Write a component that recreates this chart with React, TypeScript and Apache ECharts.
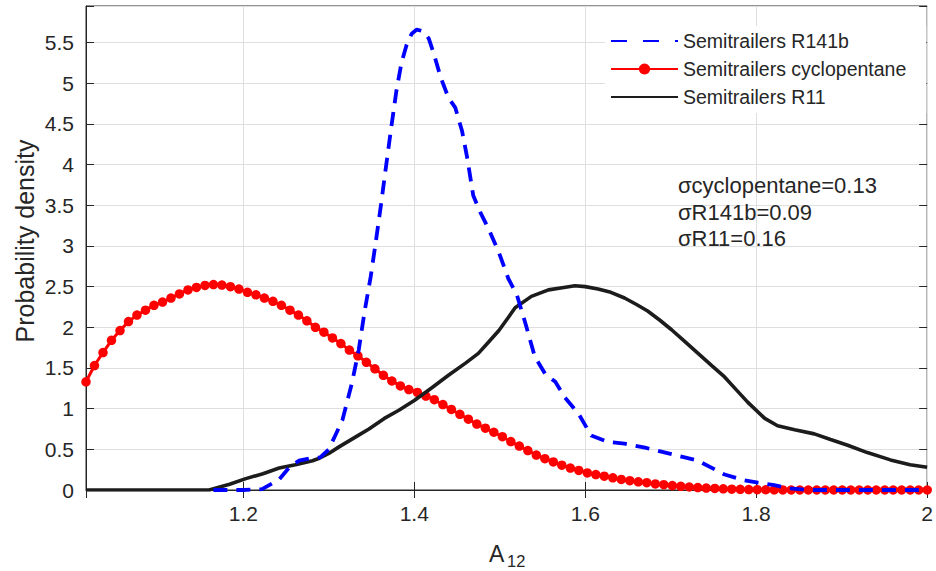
import React, { useEffect, useRef } from "react";
import * as echarts from "echarts";

// ---- data ----
const seriesNames = ["Semitrailers R141b", "Semitrailers cyclopentane", "Semitrailers R11"];

// cyclopentane: evenly spaced samples (start, step) with their densities
const cyclopentaneStart = 1.016;
const cyclopentaneStep = 0.00994;
const cyclopentaneValues = [
  1.33, 1.53, 1.69, 1.84, 1.96, 2.07, 2.15, 2.21, 2.27, 2.31,
  2.36, 2.41, 2.46, 2.49, 2.515, 2.525, 2.52, 2.5, 2.47, 2.43,
  2.4, 2.36, 2.32, 2.27, 2.21, 2.15, 2.08, 2.0, 1.94, 1.87,
  1.8, 1.72, 1.65, 1.57, 1.49, 1.41, 1.34, 1.28, 1.235, 1.2,
  1.155, 1.11, 1.05, 0.99, 0.93, 0.87, 0.81, 0.76, 0.71, 0.655,
  0.595, 0.54, 0.485, 0.43, 0.385, 0.345, 0.305, 0.27, 0.24, 0.21,
  0.19, 0.17, 0.15, 0.13, 0.115, 0.1, 0.09, 0.075, 0.065, 0.055,
  0.045, 0.037, 0.03, 0.024, 0.019, 0.014, 0.01, 0.008, 0.006, 0.004,
  0.003, 0.002, 0.001, 0, 0, 0, 0, 0, 0, 0,
  0, 0, 0, 0, 0, 0, 0, 0, 0, 0,
];

const r141bPoints: [number, number][] = [
  [1.165, 0], [1.2, 0], [1.222, 0.01], [1.242, 0.13], [1.254, 0.28], [1.265, 0.36],
  [1.278, 0.39], [1.29, 0.4], [1.3, 0.5], [1.308, 0.68], [1.316, 0.86], [1.327, 1.31],
  [1.335, 1.72], [1.342, 2.2], [1.349, 2.62], [1.355, 3.05], [1.361, 3.5], [1.367, 3.98],
  [1.373, 4.45], [1.379, 4.9], [1.385, 5.25], [1.391, 5.47], [1.397, 5.61], [1.403, 5.66],
  [1.41, 5.64], [1.417, 5.55], [1.423, 5.36], [1.431, 5.07], [1.44, 4.82], [1.448, 4.7],
  [1.456, 4.41], [1.462, 4.08], [1.469, 3.62], [1.477, 3.42], [1.487, 3.21], [1.499, 2.92],
  [1.51, 2.6], [1.52, 2.4], [1.53, 2.05], [1.541, 1.64], [1.553, 1.43], [1.565, 1.33],
  [1.576, 1.14], [1.592, 0.94], [1.607, 0.67], [1.627, 0.59], [1.646, 0.57], [1.67, 0.52],
  [1.701, 0.44], [1.732, 0.36], [1.763, 0.19], [1.786, 0.12], [1.802, 0.09], [1.821, 0.06],
  [1.84, 0.02], [1.86, 0], [2.0, 0],
];

const r11Points: [number, number][] = [
  [1.016, 0], [1.16, 0], [1.184, 0.07], [1.203, 0.14], [1.223, 0.2], [1.242, 0.27],
  [1.261, 0.31], [1.281, 0.36], [1.289, 0.39], [1.3, 0.45], [1.312, 0.53], [1.335, 0.675],
  [1.347, 0.75], [1.365, 0.88], [1.382, 0.98], [1.4, 1.1], [1.421, 1.26], [1.44, 1.41],
  [1.46, 1.56], [1.475, 1.68], [1.487, 1.82], [1.499, 1.96], [1.51, 2.12], [1.518, 2.24],
  [1.537, 2.38], [1.557, 2.46], [1.575, 2.49], [1.588, 2.51], [1.6, 2.5], [1.615, 2.47],
  [1.63, 2.43], [1.646, 2.36], [1.66, 2.28], [1.673, 2.2], [1.687, 2.09], [1.701, 1.97],
  [1.716, 1.83], [1.732, 1.68], [1.748, 1.53], [1.763, 1.39], [1.776, 1.24], [1.79, 1.08],
  [1.81, 0.88], [1.825, 0.79], [1.845, 0.74], [1.868, 0.69], [1.887, 0.62], [1.907, 0.55],
  [1.93, 0.46], [1.957, 0.37], [1.98, 0.31], [2.0, 0.28],
];

const sigmaLines = ["σcyclopentane=0.13", "σR141b=0.09", "σR11=0.16"];
const xTitleMain = "A";
const xTitleSub = "12";
const yTitle = "Probability density";

const xMin = 1.016;
const xMax = 2.0;
const yMin = 0;
const yMax = 5.95;

const FONT = "'Liberation Sans', Arial, Helvetica, sans-serif";
const AX = "#262626";
const GRID = "#dfdfdf";
const BLUE = "#0000ff";
const RED = "#ff0000";
const BLACK = "#1c1c1c";

export default function App() {
  const ref = useRef<HTMLDivElement>(null);

  useEffect(() => {
    const chart = echarts.init(ref.current as HTMLDivElement, null, { renderer: "svg" });

    const cyclopentaneData = cyclopentaneValues.map((v, i) => [
      +(cyclopentaneStart + i * cyclopentaneStep).toFixed(4),
      v,
    ]);

    const xFmt = (v: number) =>
      Math.abs(v * 5 - Math.round(v * 5)) < 1e-6 ? String(+v.toFixed(1)) : "";
    const yFmt = (v: number) =>
      Math.abs(v * 2 - Math.round(v * 2)) < 1e-6 ? String(+v.toFixed(1)) : "";

    const baseX = {
      type: "value",
      min: xMin,
      max: xMax,
      splitNumber: 5,
      minInterval: 0.2,
      maxInterval: 0.2,
    };
    const baseY = {
      type: "value",
      min: yMin,
      max: yMax,
      interval: 0.5,
    };

    chart.setOption({
      animation: false,
      backgroundColor: "#ffffff",
      grid: {
        left: 86,
        right: 6,
        top: 6,
        bottom: 81,
        show: true,
        borderColor: AX,
        borderWidth: 1,
        backgroundColor: "transparent",
      },
      xAxis: [
        {
          ...baseX,
          position: "bottom",
          axisLine: { show: true, lineStyle: { color: AX, width: 1 } },
          axisTick: { show: true, inside: true, length: 8, lineStyle: { color: AX } },
          axisLabel: {
            margin: 13,
            fontSize: 21,
            color: AX,
            fontFamily: FONT,
            formatter: xFmt,
          },
          splitLine: { show: true, lineStyle: { color: GRID, width: 1 } },
        },
        {
          ...baseX,
          position: "top",
          axisLine: { show: false },
          axisTick: { show: true, inside: true, length: 8, lineStyle: { color: AX } },
          axisLabel: { show: false },
          splitLine: { show: false },
        },
      ],
      yAxis: [
        {
          ...baseY,
          position: "left",
          axisLine: { show: true, lineStyle: { color: AX, width: 1 } },
          axisTick: { show: true, inside: true, length: 8, lineStyle: { color: AX } },
          axisLabel: {
            margin: 12,
            fontSize: 21,
            color: AX,
            fontFamily: FONT,
            formatter: yFmt,
          },
          splitLine: { show: true, lineStyle: { color: GRID, width: 1 } },
        },
        {
          ...baseY,
          position: "right",
          axisLine: { show: false },
          axisTick: { show: true, inside: true, length: 8, lineStyle: { color: AX } },
          axisLabel: { show: false },
          splitLine: { show: false },
        },
      ],
      legend: {
        orient: "vertical",
        left: 605,
        top: 26,
        padding: [5, 20, 6, 5],
        itemGap: 8,
        itemWidth: 67,
        itemHeight: 14,
        backgroundColor: "#ffffff",
        borderWidth: 0,
        data: [
          {
            name: seriesNames[0],
            itemStyle: { opacity: 0 },
            lineStyle: { type: [16, 16] },
          },
          { name: seriesNames[1] },
          { name: seriesNames[2], itemStyle: { opacity: 0 } },
        ],
        textStyle: { fontSize: 19.5, color: AX, fontFamily: FONT },
      },
      series: [
        {
          name: seriesNames[0],
          type: "line",
          data: r141bPoints,
          showSymbol: false,
          symbol: "none",
          z: 4,
          lineStyle: { color: BLUE, width: 3.8, type: [14, 9] },
          itemStyle: { color: BLUE },
        },
        {
          name: seriesNames[1],
          type: "line",
          data: cyclopentaneData,
          symbol: "circle",
          symbolSize: 9.5,
          showSymbol: true,
          showAllSymbol: true,
          z: 2,
          lineStyle: { color: RED, width: 3 },
          itemStyle: { color: RED, borderColor: RED, borderWidth: 0 },
        },
        {
          name: seriesNames[2],
          type: "line",
          data: r11Points,
          showSymbol: false,
          symbol: "none",
          z: 3,
          lineStyle: { color: BLACK, width: 3.6 },
          itemStyle: { color: BLACK },
        },
      ],
      graphic: [
        ...sigmaLines.map((t, i) => ({
          type: "text",
          x: 678,
          y: 185.5 + i * 26.5,
          z: 10,
          style: {
            text: t,
            fill: AX,
            font: `22px ${FONT}`,
            align: "left",
            verticalAlign: "middle",
          },
        })),
        {
          type: "text",
          x: 489,
          y: 554,
          z: 10,
          style: {
            text: xTitleMain,
            fill: AX,
            font: `23px ${FONT}`,
            align: "left",
            verticalAlign: "middle",
          },
        },
        {
          type: "text",
          x: 507,
          y: 560.5,
          z: 10,
          style: {
            text: xTitleSub,
            fill: AX,
            font: `16.5px ${FONT}`,
            align: "left",
            verticalAlign: "middle",
          },
        },
        {
          type: "text",
          x: 24.5,
          y: 241,
          rotation: Math.PI / 2,
          z: 10,
          style: {
            text: yTitle,
            fill: AX,
            font: `25px ${FONT}`,
            align: "center",
            verticalAlign: "middle",
          },
        },
      ],
    });

    return () => chart.dispose();
  }, []);

  return (
    <div
      ref={ref}
      style={{ position: "absolute", left: 0, top: 0, width: 936, height: 571 }}
    />
  );
}
